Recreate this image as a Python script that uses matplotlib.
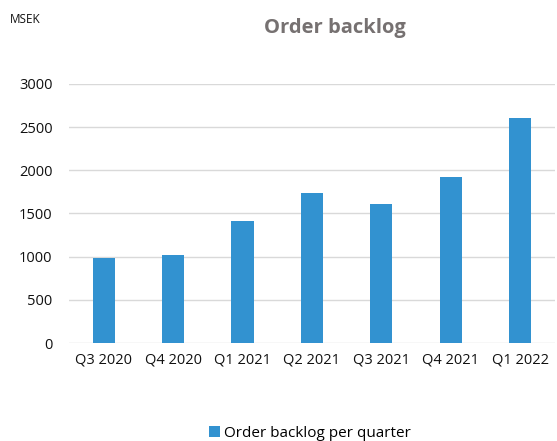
import matplotlib.pyplot as plt
import numpy as np

plt.rcParams['font.family'] = ['Open Sans', 'DejaVu Sans']

quarters = ['Q3 2020', 'Q4 2020', 'Q1 2021', 'Q2 2021', 'Q3 2021', 'Q4 2021', 'Q1 2022']
backlog = [985, 1020, 1412, 1738, 1610, 1925, 2604]
yticks = [0, 500, 1000, 1500, 2000, 2500, 3000]

bar_color = '#3292D0'

fig = plt.figure(figsize=(5.57, 4.41), dpi=100)
ax = fig.add_axes([0.124, 0.222, 0.872, 0.588])

x = np.arange(len(quarters))
ax.bar(x, backlog, width=0.32, color=bar_color, label='Order backlog per quarter', zorder=3)

ax.set_xlim(-0.5, len(quarters) - 0.5)
ax.set_ylim(0, 3000)
ax.set_yticks(yticks)
ax.set_xticks(x)
ax.set_xticklabels(quarters)
ax.grid(axis='y', color='#D9D9D9', linewidth=1, zorder=0)
for s in ax.spines.values():
    s.set_visible(False)
ax.tick_params(axis='both', length=0, labelsize=10.5, colors='#111111')
ax.tick_params(axis='x', pad=7)
ax.tick_params(axis='y', pad=12)

fig.text(0.602, 0.937, 'Order backlog', ha='center', va='center',
         fontsize=14.5, fontweight='bold', color='#767171')
fig.text(0.018, 0.955, 'MSEK', ha='left', va='center', fontsize=8.5, color='#111111')

fig.legend(loc='center', bbox_to_anchor=(0.557, 0.018), frameon=False,
           fontsize=11, handlelength=0.7, handleheight=0.7, handletextpad=0.3)

fig.savefig('out.png', dpi=100)
